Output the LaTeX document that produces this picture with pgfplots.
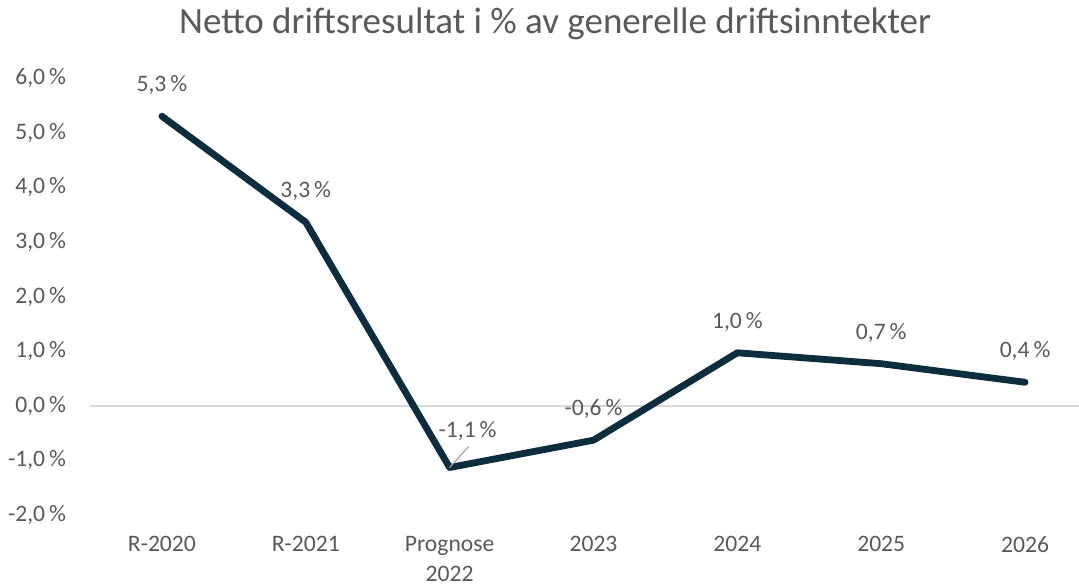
\documentclass[border=0pt]{standalone}
\usepackage{pgfplots}
\pgfplotsset{compat=1.18}
\usepackage{fontspec}
\setmainfont{Carlito}
\definecolor{LineBlue}{HTML}{0C2D3E}
\definecolor{TxtGray}{HTML}{595959}
\definecolor{ZeroGray}{HTML}{D9D9D9}

\pgfplotstableread{
x y
0 5.30
1 3.36
2 -1.13
3 -0.63
4 0.97
5 0.77
6 0.43
}\datatable

\begin{document}
\begin{tikzpicture}
\useasboundingbox (0,0) rectangle (539.5pt,-292.5pt);
\node[anchor=base, text=TxtGray, font=\fontsize{18.5}{22}\selectfont] at (277.5pt,-16.5pt)
  {Netto driftsresultat i \% av generelle driftsinntekter};
\begin{axis}[
    at={(45pt,-257.5pt)}, anchor=south west,
    scale only axis,
    width=494.5pt, height=218.5pt,
    xmin=-0.5, xmax=6.375,
    ymin=-2, ymax=6,
    clip=false,
    xtick={0,...,6},
    xticklabels={R-2020,R-2021,Prognose\\2022,2023,2024,2025,2026},
    ytick={-2,...,6},
    yticklabels={{-2,0\,\%},{-1,0\,\%},{0,0\,\%},{1,0\,\%},{2,0\,\%},{3,0\,\%},{4,0\,\%},{5,0\,\%},{6,0\,\%}},
    major tick length=0pt,
    tick label style={text=TxtGray, font=\fontsize{11.8}{15}\selectfont},
    xticklabel style={align=center, anchor=north, yshift=-7pt},
    yticklabel style={anchor=east, xshift=-8.5pt},
    axis line style={draw=none},
]
\draw[ZeroGray, line width=1pt] (axis cs:-0.5,0) -- (axis cs:6.375,0);
\addplot[LineBlue, line width=3.4pt, line join=round, line cap=round] table[x=x,y=y] {\datatable};
\draw[gray!70, line width=0.6pt] (axis cs:2,-1.13) -- ++(9.5pt,10.5pt);
\addplot[draw=none, nodes near coords, point meta=explicit symbolic,
    every node near coord/.style={anchor=center, text=TxtGray, font=\fontsize{11.8}{14}\selectfont,
      yshift=15.5pt}]
  table[x=x,y=y,meta=lab] {
x y lab
0 5.30 {5,3\,\%}
1 3.36 {3,3\,\%}
3 -0.63 {-0,6\,\%}
4 0.97 {1,0\,\%}
5 0.77 {0,7\,\%}
6 0.43 {0,4\,\%}
};
\addplot[draw=none, nodes near coords, point meta=explicit symbolic,
    every node near coord/.style={anchor=center, text=TxtGray, font=\fontsize{11.8}{14}\selectfont,
      xshift=9pt, yshift=18.5pt}]
  table[x=x,y=y,meta=lab] {
x y lab
2 -1.13 {-1,1\,\%}
};
\end{axis}
\end{tikzpicture}
\end{document}
